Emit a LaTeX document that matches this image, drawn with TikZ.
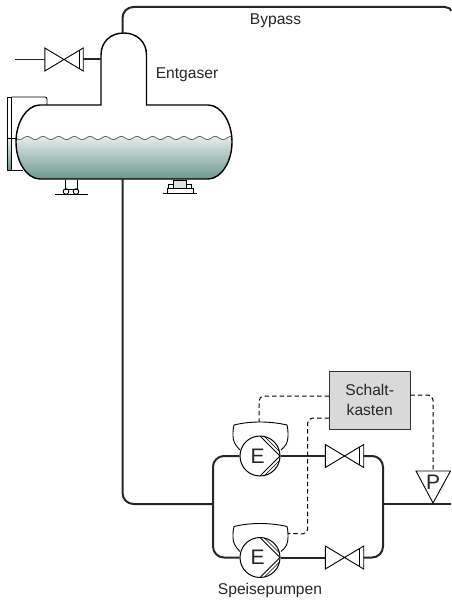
\documentclass[tikz,border=0pt]{standalone}
\usepackage{fontspec}
\setmainfont{Liberation Sans}
\usepackage{xcolor}
\usetikzlibrary{arrows.meta,positioning,calc}
\definecolor{wasserhell}{HTML}{E6ECEA}
\definecolor{wasserdunkel}{HTML}{6A958C}
\definecolor{kastengrau}{HTML}{D9D9D9}
\newcommand{\pumpe}[3]{
\node[pumpkreis] (#1) at (#2,#3) {E\hspace*{5pt}};
\begin{scope}[shift={(#2,#3)}]
\draw[duenn] (-20,-6) .. controls (-25,-11) and (-27,-15) .. (-27,-20) .. controls (-27,-25) and (-27,-28) .. (-26,-31) .. controls (-10,-35) and (10,-35) .. (27,-31) .. controls (28,-27) and (28,-24) .. (28,-20) .. controls (28,-14) and (26,-10) .. (21,-6);
\draw[duenn] (0,-20)--(20,0)--(0,20);
\draw[draw=black,line width=.6pt] (4.6,-19.4)--(19.4,-4.6);
\draw[draw=black,line width=.6pt] (4.6,19.4)--(19.4,4.6);
\coordinate (#1-oben) at (-1,-34);
\coordinate (#1-rechts) at (28,-24);
\end{scope}
}
\newcommand{\armatur}[3]{
\node[armaturfeld] (#1) at (#2,#3) {};
\begin{scope}[shift={(#1.center)}]
\draw[duenn,fill=white] (-19.2,-11.5)--(19.2,11.5)--(19.2,-11.5)--(-19.2,11.5)--cycle;
\draw[duenn] (15,-9.2)--(15,9.2);
\end{scope}
}
\begin{document}
\begin{tikzpicture}[x=1pt,y=-1pt,
every node/.style={font=\fontsize{15.6}{20}\selectfont,text=black!85},
rohr/.style={draw=black!85,line width=2pt},
tank/.style={draw=black,line width=1.4pt},
duenn/.style={draw=black,line width=.9pt},
strich/.style={draw=black,line width=1pt,dash pattern=on 4.5pt off 3pt,rounded corners=5pt},
pumpkreis/.style={circle,draw=black,line width=1pt,fill=white,minimum size=40pt,inner sep=0pt,font=\fontsize{21}{24}\selectfont},
armaturfeld/.style={minimum width=38.4pt,minimum height=23pt,inner sep=0pt,outer sep=0pt},
kasten/.style={draw=black!80,line width=.9pt,fill=kastengrau,minimum width=80.5pt,minimum height=58pt,inner sep=0pt,align=center}]
\useasboundingbox (0,0) rectangle (451,601);
\def\behaelter{(101,105)--(40,105) .. controls (27,105) and (16,122) .. (16,142) .. controls (16,162) and (27,179) .. (40,179)--(208,179) .. controls (221,179) and (232,162) .. (232,142) .. controls (232,122) and (221,105) .. (208,105)--(146.5,105)--(146.5,55) .. controls (146.5,42) and (137,33) .. (123.7,33) .. controls (110.5,33) and (101,42) .. (101,55)--cycle}
\coordinate (tankOben) at (122.5,33);
\coordinate (tankUnten) at (122.5,179);
\coordinate (domLinks) at (101,59.5);
\coordinate (bypassKnick) at (445,7);
\coordinate (bypassEnde) at (451,11);
\coordinate (zulauf) at (15,59.5);
\coordinate (loopL) at (213,504);
\coordinate (loopR) at (383,504);
\coordinate (rohrEnde) at (451,504);
\coordinate (pSpitze) at (433,471);
\begin{scope}
\clip \behaelter;
\shade[top color=wasserhell,bottom color=wasserdunkel] plot[domain=10:240,samples=150] (\x,{138+1.6*sin(\x*23)})--(240,180)--(10,180)--cycle;
\draw[draw=black!60,line width=.8pt] plot[domain=10:240,samples=150] (\x,{138+1.6*sin(\x*23)});
\end{scope}
\draw[tank] \behaelter;
\shade[top color=wasserhell,bottom color=wasserdunkel] (7,138) rectangle (11.3,170.5);
\draw[duenn] (7,97) rectangle (11.3,170.5);
\draw[duenn,rounded corners=2pt] (11.3,97)--(47,97)--(47,105);
\draw[duenn] (11.3,170.5)--(23,170.5);
\draw[duenn] (7,138)--(16,138);
\draw[duenn] (65,180)--(65,189)--(77,189)--(77,180);
\draw[duenn] (66,191.5) circle (2.8) (76,191.5) circle (2.8);
\draw[duenn] (55,194.5)--(88,194.5);
\draw[duenn,fill=black!12] (173,180) rectangle (186,188);
\draw[duenn] (168,184.5) rectangle (173,188) (186,184.5) rectangle (191,188);
\draw[duenn] (167,193) rectangle (193,188);
\draw[duenn] (163,193.5)--(197,193.5);
\armatur{ventilT}{64}{59.5}
\draw[line width=1pt,draw=black!85] (zulauf)--(ventilT.west);
\draw[rohr] (ventilT.east)--(domLinks);
\draw[rohr,rounded corners=11pt] (tankOben)--(tankOben|-bypassKnick)--(bypassKnick);
\draw[rohr] (bypassKnick) .. controls (448,7) and (451,9) .. (bypassEnde);
\pumpe{pumpeA}{260}{456}
\pumpe{pumpeB}{260}{557.5}
\armatur{ventilA}{344.5}{456}
\armatur{ventilB}{344.5}{557.5}
\draw[rohr,rounded corners=11pt] (tankUnten)--(tankUnten|-loopL)--(loopL);
\draw[rohr,rounded corners=11pt] (pumpeA.west)--(pumpeA.west-|loopL)--(pumpeB.west-|loopL)--(pumpeB.west);
\draw[rohr,rounded corners=11pt] (ventilA.east)--(ventilA.east-|loopR)--(ventilB.east-|loopR)--(ventilB.east);
\draw[rohr] (pumpeA.east)--(ventilA.west);
\draw[rohr] (pumpeB.east)--(ventilB.west);
\draw[rohr] (loopR)--(rohrEnde);
\node[kasten] (schaltkasten) at (369.7,400) {Schalt-\\kasten};
\draw[strich] (schaltkasten.west|-0,396)--(pumpeA-oben|-0,396)--(pumpeA-oben);
\draw[strich] (schaltkasten.west|-0,418)--(307.7,418)--(307.7,534)--(pumpeB-rechts);
\draw[strich] (schaltkasten.east|-0,395)--(pSpitze|-0,395)--(pSpitze);
\draw[duenn,fill=white] (416,471)--(450.5,471)--(433,503)--cycle;
\node[font=\fontsize{21}{24}\selectfont] (pVentil) at (433,482.5) {P};
\node (entgaser) at (187,75) {Entgaser};
\node (bypass) at (275.5,21) {Bypass};
\node (speisepumpen) at (270,590) {Speisepumpen};
\end{tikzpicture}
\end{document}
